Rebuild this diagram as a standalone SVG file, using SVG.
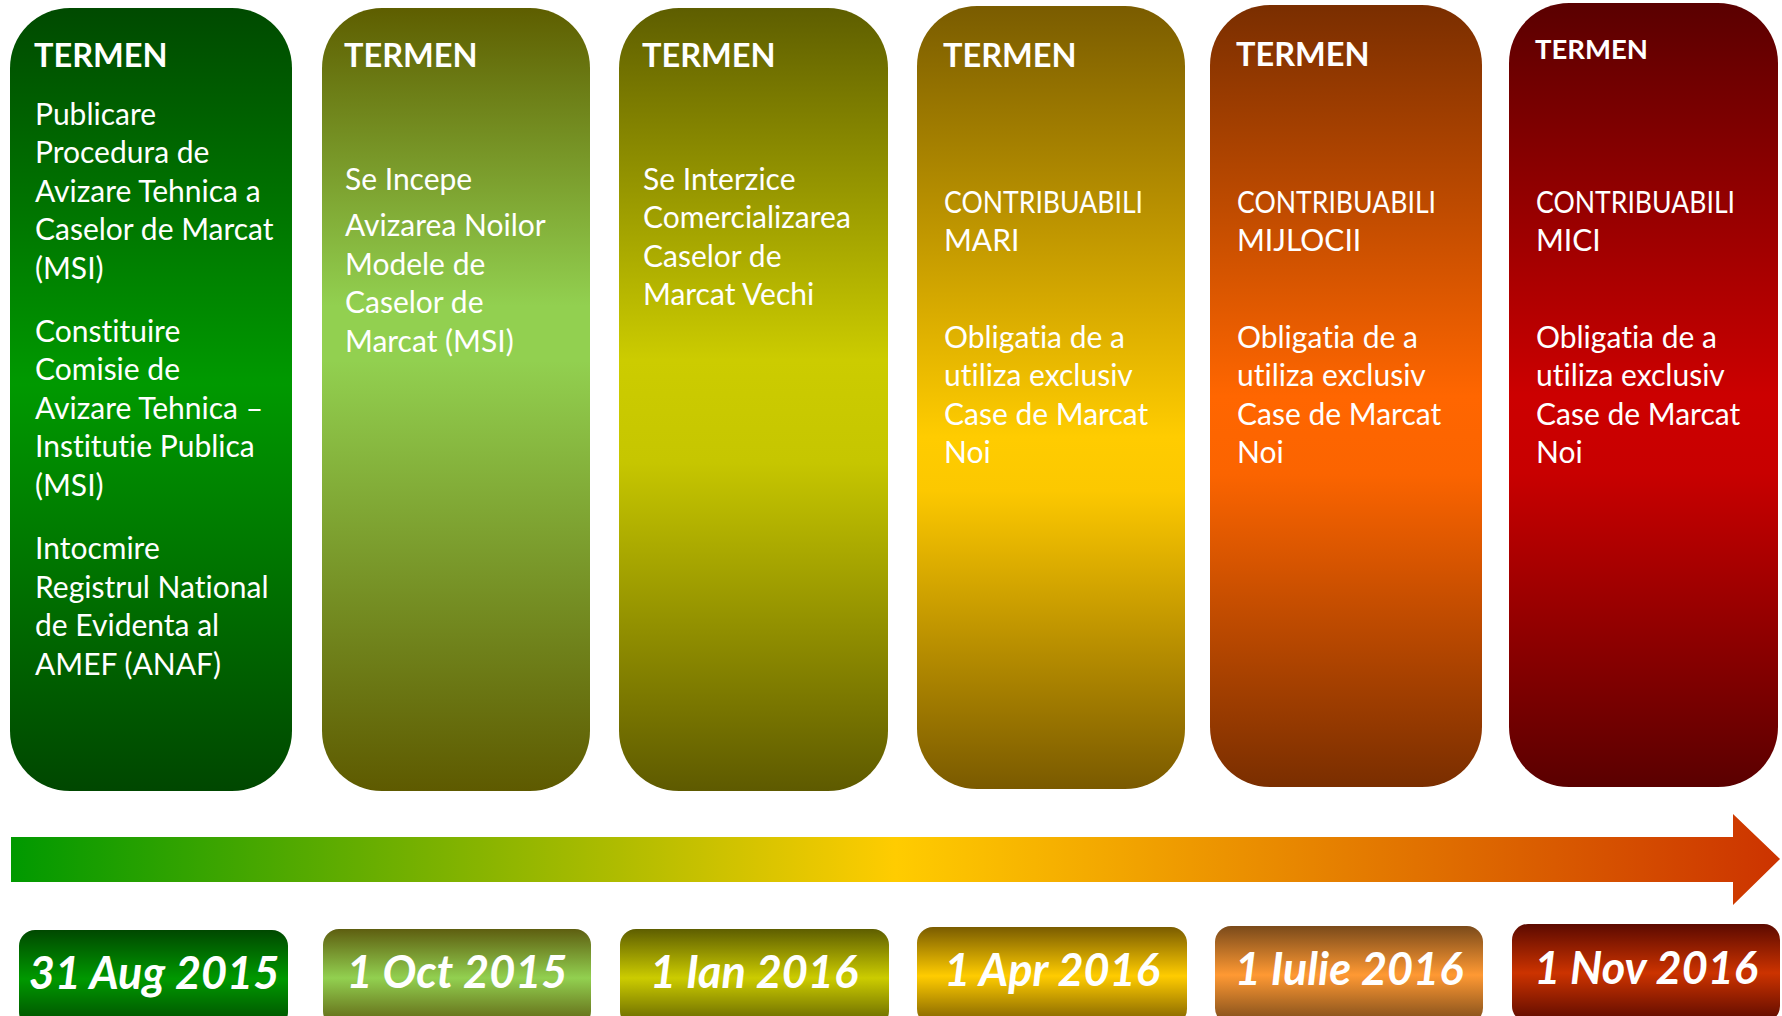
<svg xmlns="http://www.w3.org/2000/svg" width="1782" height="1016" viewBox="0 0 1782 1016">
<style>
text{font-variant-ligatures:none}
.hd{font-family:Lato,"Open Sans",sans-serif;font-weight:700;font-size:32.5px;fill:#fff}
.tx{font-family:Lato,"Open Sans",sans-serif;font-size:30px;fill:#fff}
.dt{font-family:Lato,"Open Sans",sans-serif;font-weight:700;font-style:italic;font-size:45px;fill:#fff;text-anchor:middle}
</style>
<defs>
<linearGradient id="g1" x1="0" y1="0" x2="0" y2="1"><stop offset="0" stop-color="#004a00"/><stop offset="0.48" stop-color="#009900"/><stop offset="1" stop-color="#004700"/></linearGradient>
<linearGradient id="g2" x1="0" y1="0" x2="0" y2="1"><stop offset="0" stop-color="#5e5e00"/><stop offset="0.38" stop-color="#92d050"/><stop offset="0.45" stop-color="#92d050"/><stop offset="1" stop-color="#5e5a00"/></linearGradient>
<linearGradient id="g3" x1="0" y1="0" x2="0" y2="1"><stop offset="0" stop-color="#5e5e00"/><stop offset="0.45" stop-color="#cccc00"/><stop offset="0.58" stop-color="#c6c600"/><stop offset="1" stop-color="#5e5a00"/></linearGradient>
<linearGradient id="g4" x1="0" y1="0" x2="0" y2="1"><stop offset="0" stop-color="#7a5c00"/><stop offset="0.55" stop-color="#ffcc00"/><stop offset="0.62" stop-color="#fcc800"/><stop offset="1" stop-color="#7a5a00"/></linearGradient>
<linearGradient id="g5" x1="0" y1="0" x2="0" y2="1"><stop offset="0" stop-color="#7a2e00"/><stop offset="0.5" stop-color="#ff6600"/><stop offset="0.6" stop-color="#fb6400"/><stop offset="1" stop-color="#7a2e00"/></linearGradient>
<linearGradient id="g6" x1="0" y1="0" x2="0" y2="1"><stop offset="0" stop-color="#5a0000"/><stop offset="0.5" stop-color="#cc0000"/><stop offset="0.6" stop-color="#c80000"/><stop offset="1" stop-color="#5a0000"/></linearGradient>
<linearGradient id="d1" x1="0" y1="0" x2="0" y2="1"><stop offset="0" stop-color="#004800"/><stop offset="0.5" stop-color="#009900"/><stop offset="1" stop-color="#004800"/></linearGradient>
<linearGradient id="d2" x1="0" y1="0" x2="0" y2="1"><stop offset="0" stop-color="#5e5e10"/><stop offset="0.5" stop-color="#92d050"/><stop offset="1" stop-color="#5e5e10"/></linearGradient>
<linearGradient id="d3" x1="0" y1="0" x2="0" y2="1"><stop offset="0" stop-color="#5e5e00"/><stop offset="0.5" stop-color="#cccc00"/><stop offset="1" stop-color="#5e5e00"/></linearGradient>
<linearGradient id="d4" x1="0" y1="0" x2="0" y2="1"><stop offset="0" stop-color="#7a5c00"/><stop offset="0.5" stop-color="#ffcc00"/><stop offset="1" stop-color="#7a5c00"/></linearGradient>
<linearGradient id="d5" x1="0" y1="0" x2="0" y2="1"><stop offset="0" stop-color="#7a4a1a"/><stop offset="0.5" stop-color="#ff9933"/><stop offset="1" stop-color="#7a4a1a"/></linearGradient>
<linearGradient id="d6" x1="0" y1="0" x2="0" y2="1"><stop offset="0" stop-color="#5c0a00"/><stop offset="0.5" stop-color="#cc3300"/><stop offset="1" stop-color="#5c0a00"/></linearGradient>
<linearGradient id="ga" x1="11" y1="0" x2="1780" y2="0" gradientUnits="userSpaceOnUse"><stop offset="0" stop-color="#009900"/><stop offset="0.5" stop-color="#ffcc00"/><stop offset="1" stop-color="#cc3300"/></linearGradient>
</defs>

<g id="col1">
<rect x="10" y="8" width="282" height="783" rx="60" fill="url(#g1)"/>
<text class="hd" x="34" y="67">TERMEN</text>
<text class="tx"><tspan x="35" y="125">Publicare</tspan><tspan x="35" y="163">Procedura de</tspan><tspan x="35" y="202">Avizare Tehnica a</tspan><tspan x="35" y="240">Caselor de Marcat</tspan><tspan x="35" y="279">(MSI)</tspan><tspan x="35" y="342">Constituire</tspan><tspan x="35" y="380">Comisie de</tspan><tspan x="35" y="419">Avizare Tehnica –</tspan><tspan x="35" y="457">Institutie Publica</tspan><tspan x="35" y="496">(MSI)</tspan><tspan x="35" y="559">Intocmire</tspan><tspan x="35" y="598">Registrul National</tspan><tspan x="35" y="636">de Evidenta al</tspan><tspan x="35" y="675">AMEF (ANAF)</tspan></text>
</g>

<g id="col2">
<rect x="322" y="8" width="268" height="783" rx="60" fill="url(#g2)"/>
<text class="hd" x="344" y="67">TERMEN</text>
<text class="tx"><tspan x="345" y="190">Se Incepe</tspan><tspan x="345" y="236">Avizarea Noilor</tspan><tspan x="345" y="275">Modele de</tspan><tspan x="345" y="313">Caselor de</tspan><tspan x="345" y="352">Marcat (MSI)</tspan></text>
</g>

<g id="col3">
<rect x="619" y="8" width="269" height="783" rx="60" fill="url(#g3)"/>
<text class="hd" x="642" y="67">TERMEN</text>
<text class="tx"><tspan x="643" y="190">Se Interzice</tspan><tspan x="643" y="228">Comercializarea</tspan><tspan x="643" y="267">Caselor de</tspan><tspan x="643" y="305">Marcat Vechi</tspan></text>
</g>

<g id="col4">
<rect x="917" y="6" width="268" height="783" rx="60" fill="url(#g4)"/>
<text class="hd" x="943" y="67">TERMEN</text>
<text class="tx" x="944" y="213" textLength="199" lengthAdjust="spacingAndGlyphs">CONTRIBUABILI</text>
<text class="tx"><tspan x="944" y="251">MARI</tspan><tspan x="944" y="348">Obligatia de a</tspan><tspan x="944" y="386">utiliza exclusiv</tspan><tspan x="944" y="425">Case de Marcat</tspan><tspan x="944" y="463">Noi</tspan></text>
</g>

<g id="col5">
<rect x="1210" y="5" width="272" height="782" rx="60" fill="url(#g5)"/>
<text class="hd" x="1236" y="66">TERMEN</text>
<text class="tx" x="1237" y="213" textLength="199" lengthAdjust="spacingAndGlyphs">CONTRIBUABILI</text>
<text class="tx"><tspan x="1237" y="251">MIJLOCII</tspan><tspan x="1237" y="348">Obligatia de a</tspan><tspan x="1237" y="386">utiliza exclusiv</tspan><tspan x="1237" y="425">Case de Marcat</tspan><tspan x="1237" y="463">Noi</tspan></text>
</g>

<g id="col6">
<rect x="1509" y="3" width="269" height="784" rx="60" fill="url(#g6)"/>
<text class="hd" x="1535" y="59" style="font-size:27.5px">TERMEN</text>
<text class="tx" x="1536" y="213" textLength="199" lengthAdjust="spacingAndGlyphs">CONTRIBUABILI</text>
<text class="tx"><tspan x="1536" y="251">MICI</tspan><tspan x="1536" y="348">Obligatia de a</tspan><tspan x="1536" y="386">utiliza exclusiv</tspan><tspan x="1536" y="425">Case de Marcat</tspan><tspan x="1536" y="463">Noi</tspan></text>
</g>

<g id="connectors">
<path id="timeline-arrow" d="M11 837 H1733 V814 L1780 859 L1733 905 V882 H11 Z" fill="url(#ga)"/>
</g>

<g id="date1"><rect x="19" y="930" width="269" height="98" rx="16" fill="url(#d1)"/><text class="dt" x="154" y="989">31 Aug 2015</text></g>
<g id="date2"><rect x="323" y="929" width="268" height="98" rx="16" fill="url(#d2)"/><text class="dt" x="457" y="988">1 Oct 2015</text></g>
<g id="date3"><rect x="620" y="929" width="269" height="98" rx="16" fill="url(#d3)"/><text class="dt" x="754" y="988">1 Ian 2016</text></g>
<g id="date4"><rect x="917" y="927" width="270" height="98" rx="16" fill="url(#d4)"/><text class="dt" x="1052" y="986">1 Apr 2016</text></g>
<g id="date5"><rect x="1215" y="926" width="268" height="98" rx="16" fill="url(#d5)"/><text class="dt" x="1349" y="985">1 Iulie 2016</text></g>
<g id="date6"><rect x="1512" y="924" width="268" height="98" rx="16" fill="url(#d6)"/><text class="dt" x="1646" y="984">1 Nov 2016</text></g>
</svg>
